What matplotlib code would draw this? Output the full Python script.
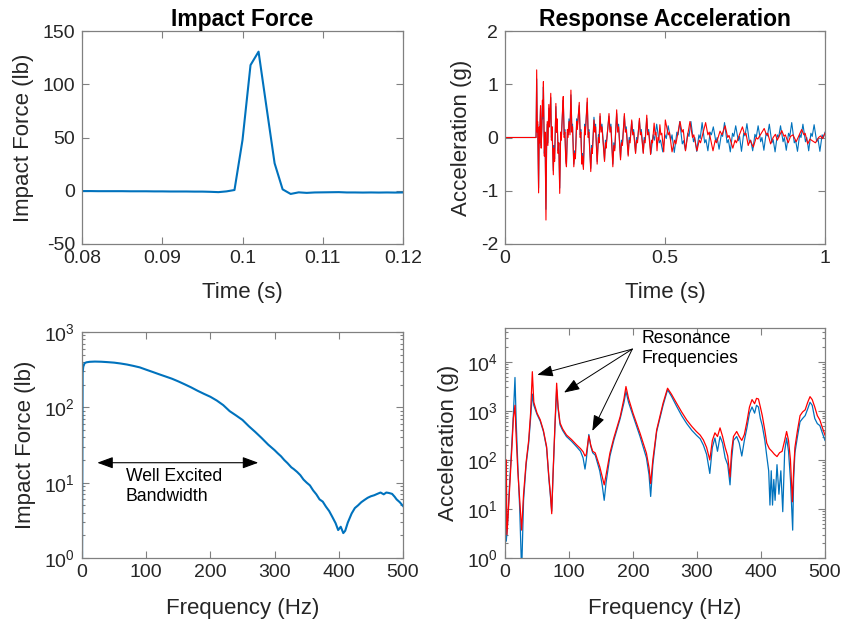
import matplotlib
matplotlib.use("Agg")
import matplotlib.pyplot as plt
from matplotlib.ticker import LogLocator, NullFormatter
import numpy as np

plt.rcParams['font.family'] = ['Liberation Sans', 'DejaVu Sans']
plt.rcParams['mathtext.fontset'] = 'custom'
plt.rcParams['mathtext.rm'] = 'Liberation Sans'
plt.rcParams['mathtext.it'] = 'Liberation Sans:italic'
plt.rcParams['mathtext.bf'] = 'Liberation Sans:bold'
plt.rcParams['axes.unicode_minus'] = False

BLUE = '#0072BD'
RED = '#FF0000'
AXC = '#808080'
TXC = '#262626'

# ---- Impact force, time domain (sampled every 1 ms) ----
force_time = [0.080, 0.081, 0.082, 0.083, 0.084, 0.085, 0.086, 0.087, 0.088, 0.089,
              0.090, 0.091, 0.092, 0.093, 0.094, 0.095, 0.096, 0.097, 0.098, 0.099,
              0.100, 0.101, 0.102, 0.103, 0.104, 0.105, 0.106, 0.107, 0.108, 0.109,
              0.110, 0.111, 0.112, 0.113, 0.114, 0.115, 0.116, 0.117, 0.118, 0.119, 0.120]
force_lb = [-0.3, -0.3, -0.4, -0.4, -0.4, -0.4, -0.5, -0.5, -0.5, -0.6,
            -0.6, -0.7, -0.7, -0.7, -0.8, -0.8, -1.0, -1.3, -0.6, 0.7,
            47.6, 118.0, 130.6, 78.0, 25.8, 1.3, -3.0, -1.5, -2.0, -1.6,
            -1.5, -1.4, -1.3, -1.6, -1.6, -1.7, -1.6, -1.7, -1.6, -1.7, -1.6]

# ---- Response acceleration, time domain (turning points of each trace) ----
acc_red_t = [0.000, 0.097, 0.099, 0.101, 0.102, 0.105, 0.107, 0.108, 0.111, 0.113,
             0.115, 0.117, 0.118, 0.120, 0.123, 0.125, 0.128, 0.130, 0.132, 0.134,
             0.137, 0.139, 0.143, 0.145, 0.147, 0.151, 0.153, 0.155, 0.159, 0.161,
             0.163, 0.166, 0.168, 0.171, 0.174, 0.176, 0.180, 0.182, 0.185, 0.187,
             0.190, 0.192, 0.195, 0.197, 0.200, 0.203, 0.206, 0.209, 0.211, 0.215,
             0.218, 0.220, 0.224, 0.226, 0.232, 0.235, 0.237, 0.240, 0.242, 0.245,
             0.249, 0.251, 0.257, 0.260, 0.262, 0.268, 0.271, 0.273, 0.278, 0.281,
             0.283, 0.288, 0.292, 0.294, 0.297, 0.300, 0.303, 0.311, 0.314, 0.316,
             0.325, 0.328, 0.331, 0.337, 0.340, 0.343, 0.349, 0.352, 0.355, 0.361,
             0.364, 0.367, 0.373, 0.376, 0.379, 0.385, 0.388, 0.391, 0.396, 0.399,
             0.402, 0.408, 0.411, 0.414, 0.420, 0.423, 0.426, 0.432, 0.435, 0.438,
             0.443, 0.446, 0.449, 0.455, 0.458, 0.461, 0.466, 0.469, 0.472, 0.475,
             0.478, 0.481, 0.484, 0.487, 0.490, 0.496, 0.501, 0.510, 0.514, 0.522,
             0.530, 0.534, 0.547, 0.553, 0.557, 0.564, 0.571, 0.578, 0.586, 0.590,
             0.600, 0.607, 0.611, 0.627, 0.634, 0.638, 0.650, 0.657, 0.661, 0.672,
             0.678, 0.688, 0.696, 0.700, 0.712, 0.719, 0.723, 0.742, 0.749, 0.753,
             0.760, 0.766, 0.776, 0.785, 0.790, 0.810, 0.817, 0.821, 0.830, 0.838,
             0.845, 0.851, 0.865, 0.872, 0.876, 0.885, 0.892, 0.900, 0.910, 0.927,
             0.934, 0.938, 0.946, 0.953, 0.960, 0.970, 0.980, 0.986, 0.992, 1.000]
acc_red_g = [0.00, 0.00, 1.27, 0.10, 0.30, -1.04, 0.20, -0.10, 0.60, -0.20,
             0.15, 0.70, 0.40, 1.05, -0.35, 0.10, -1.55, -0.20, 0.30, -0.15,
             0.62, 0.20, 0.83, -0.05, 0.20, -0.70, -0.20, -0.45, 0.64, 0.10,
             0.35, -0.30, -0.10, -1.05, 0.10, -0.05, 0.55, 0.77, 0.00, 0.10,
             -0.45, -0.55, 0.15, 0.00, 0.30, 0.05, 0.89, 0.10, 0.20, -0.55,
             -0.30, -0.40, 0.30, 0.15, 0.66, 0.00, 0.10, -0.50, -0.35, -0.60,
             0.20, 0.05, 0.74, 0.00, 0.10, -0.64, -0.20, -0.30, 0.33, 0.10,
             0.20, -0.50, 0.00, -0.10, 0.45, 0.10, 0.20, -0.45, -0.10, -0.20,
             0.45, 0.10, 0.20, -0.55, -0.15, -0.25, 0.52, 0.10, 0.20, -0.42,
             -0.10, -0.15, 0.45, 0.10, 0.15, -0.35, -0.05, -0.10, 0.33, 0.05,
             0.10, -0.30, -0.05, -0.10, 0.36, 0.05, 0.10, -0.30, -0.05, -0.10,
             0.42, 0.05, 0.10, -0.32, -0.05, -0.10, 0.27, 0.05, 0.10, -0.25,
             0.00, -0.05, 0.24, 0.05, 0.08, -0.27, 0.33, 0.05, 0.10, -0.27,
             -0.05, -0.12, 0.30, 0.10, 0.15, -0.25, 0.05, 0.30, 0.00, 0.05,
             -0.25, -0.05, -0.10, 0.28, 0.05, 0.10, -0.25, -0.05, -0.10, 0.12,
             0.05, 0.22, 0.00, 0.04, -0.20, -0.05, -0.10, 0.20, 0.05, 0.08,
             -0.15, -0.05, -0.18, 0.00, -0.03, 0.17, 0.05, 0.08, -0.12, 0.00,
             0.06, -0.05, 0.13, 0.02, 0.05, -0.10, 0.02, 0.05, -0.08, 0.15,
             0.05, 0.08, -0.12, -0.03, -0.06, -0.10, 0.00, 0.03, -0.02, 0.08]

acc_blue_t = [0.000, 0.097, 0.099, 0.101, 0.102, 0.105, 0.107, 0.108, 0.111, 0.113,
              0.115, 0.117, 0.118, 0.120, 0.123, 0.125, 0.128, 0.130, 0.132, 0.134,
              0.137, 0.139, 0.143, 0.145, 0.147, 0.151, 0.153, 0.155, 0.159, 0.161,
              0.163, 0.166, 0.168, 0.171, 0.174, 0.176, 0.180, 0.182, 0.185, 0.187,
              0.190, 0.192, 0.195, 0.197, 0.200, 0.203, 0.206, 0.209, 0.211, 0.215,
              0.218, 0.220, 0.224, 0.226, 0.232, 0.235, 0.237, 0.240, 0.242, 0.245,
              0.249, 0.251, 0.257, 0.260, 0.262, 0.268, 0.271, 0.273, 0.278, 0.281,
              0.283, 0.288, 0.292, 0.294, 0.297, 0.300, 0.303, 0.311, 0.314, 0.316,
              0.325, 0.328, 0.331, 0.337, 0.340, 0.343, 0.349, 0.352, 0.355, 0.361,
              0.364, 0.367, 0.373, 0.376, 0.379, 0.385, 0.388, 0.391, 0.396, 0.399,
              0.402, 0.408, 0.411, 0.414, 0.420, 0.423, 0.426, 0.432, 0.435, 0.438,
              0.443, 0.446, 0.449, 0.456, 0.463, 0.467, 0.474, 0.482, 0.486, 0.493,
              0.500, 0.504, 0.510, 0.518, 0.522, 0.529, 0.537, 0.541, 0.546, 0.554,
              0.558, 0.564, 0.571, 0.575, 0.581, 0.589, 0.593, 0.599, 0.606, 0.610,
              0.616, 0.624, 0.628, 0.634, 0.641, 0.645, 0.651, 0.659, 0.663, 0.669,
              0.676, 0.680, 0.686, 0.694, 0.698, 0.704, 0.711, 0.715, 0.721, 0.729,
              0.733, 0.739, 0.746, 0.750, 0.756, 0.764, 0.768, 0.774, 0.781, 0.785,
              0.791, 0.799, 0.803, 0.809, 0.816, 0.820, 0.826, 0.834, 0.838, 0.844,
              0.851, 0.855, 0.861, 0.869, 0.873, 0.879, 0.886, 0.890, 0.896, 0.904,
              0.908, 0.914, 0.921, 0.925, 0.931, 0.939, 0.943, 0.949, 0.956, 0.960,
              0.966, 0.974, 0.978, 0.984, 0.991, 0.995, 1.000]
acc_blue_g = [0.00, 0.00, 1.10, 0.10, 0.25, -0.95, 0.15, -0.05, 0.55, -0.15,
              0.15, 0.60, 0.35, 0.95, -0.30, 0.10, -1.35, -0.15, 0.25, -0.10,
              0.55, 0.20, 0.75, 0.00, 0.20, -0.62, -0.15, -0.40, 0.58, 0.10,
              0.30, -0.25, -0.10, -0.95, 0.10, 0.00, 0.50, 0.70, 0.05, 0.15,
              -0.40, -0.50, 0.10, 0.05, 0.35, 0.10, 0.80, 0.15, 0.25, -0.50,
              -0.25, -0.35, 0.35, 0.20, 0.60, 0.05, 0.15, -0.45, -0.30, -0.55,
              0.25, 0.10, 0.66, 0.05, 0.15, -0.58, -0.15, -0.25, 0.38, 0.15,
              0.25, -0.45, 0.05, -0.05, 0.40, 0.15, 0.25, -0.42, -0.05, -0.15,
              0.40, 0.15, 0.25, -0.50, -0.10, -0.20, 0.45, 0.15, 0.25, -0.38,
              -0.05, -0.10, 0.40, 0.15, 0.20, -0.32, 0.00, -0.05, 0.30, 0.10,
              0.15, -0.28, 0.00, -0.05, 0.32, 0.10, 0.15, -0.28, 0.00, -0.05,
              0.36, 0.10, 0.15, -0.30, 0.05, -0.05, 0.25, -0.10, -0.05, -0.27,
              0.05, -0.02, 0.22, -0.05, 0.05, -0.28, 0.10, 0.05, 0.30, -0.12,
              -0.06, -0.24, 0.08, 0.02, 0.30, -0.08, 0.00, -0.26, 0.05, -0.02,
              0.28, -0.10, -0.04, -0.25, 0.10, 0.05, 0.20, -0.08, 0.00, -0.22,
              0.06, 0.02, 0.28, -0.10, -0.04, -0.27, 0.08, 0.02, 0.22, -0.06,
              0.02, -0.26, 0.08, 0.03, 0.26, -0.10, -0.05, -0.25, 0.06, 0.00,
              0.22, -0.08, 0.00, -0.24, 0.08, 0.03, 0.25, -0.10, -0.04, -0.27,
              0.05, 0.00, 0.22, -0.08, 0.00, -0.24, 0.08, 0.02, 0.28, -0.10,
              -0.05, -0.26, 0.06, 0.00, 0.25, -0.08, 0.00, -0.25, 0.08, 0.02,
              0.24, -0.08, -0.02, -0.26, 0.05, 0.00, 0.10]

# ---- Impact force spectrum ----
force_freq = [0, 1, 2, 4, 7, 12, 20, 30, 40, 50, 60, 70, 80, 90, 100, 110, 120, 130,
              140, 150, 160, 170, 180, 190, 200, 210, 220, 230, 240, 250, 260, 270,
              280, 290, 300, 305, 310, 315, 320, 326, 330, 335, 340, 345, 350, 355,
              360, 365, 370, 375, 380, 385, 390, 395, 399, 403, 407, 410, 414, 420,
              425, 430, 435, 440, 445, 450, 455, 460, 465, 470, 474, 478, 483, 487,
              490, 495, 500]
force_mag = [0.5, 288, 347, 385, 396, 402, 405, 403, 398, 392, 382, 370, 355, 339,
             316, 295, 275, 257, 240, 221, 202, 184, 166, 151, 138, 123, 107, 89, 78,
             68, 56, 47, 39, 32, 27, 24.5, 22.4, 20.0, 18.2, 16.0, 15.1, 13.9, 12.6,
             11.0, 10.0, 9.2, 7.9, 7.0, 6.0, 5.6, 4.8, 4.2, 3.5, 2.9, 2.35, 2.6, 2.14,
             2.3, 2.95, 3.9, 4.6, 5.0, 5.5, 5.9, 6.3, 6.6, 6.8, 7.1, 7.4, 7.0, 7.4,
             7.3, 7.1, 6.5, 6.0, 5.5, 4.9]

# ---- Response acceleration spectra ----
acc_red_freq = [0, 1, 2, 3, 5, 8, 11, 13, 15.6, 17, 20, 23, 26, 29, 33, 37, 40, 42.7,
                45, 50, 55, 60, 65, 68.5, 71, 73, 75, 78, 80.7, 83, 86, 90, 96, 104,
                112, 118, 122, 125, 127, 131, 134, 137, 141, 148, 152, 155, 158, 164,
                170, 180, 186, 189, 193, 200, 211, 221, 225, 227.6, 231, 237, 247, 254,
                260, 268, 276, 284, 292, 299, 305, 310, 315, 320, 324, 328, 332, 336,
                340, 344, 348, 351.6, 354, 357, 362, 366, 370, 374, 378, 382, 386, 390,
                393, 396, 399, 402, 406, 409, 413, 417, 421, 425, 429, 433, 437, 440,
                443, 446, 449, 451, 453, 457, 461, 465, 469, 473, 476.6, 480, 484, 488,
                492, 496, 500]
acc_red_mag = [4.9e4, 4, 100, 3, 8, 40, 200, 700, 1300, 400, 60, 15, 3.7, 20, 90, 250,
               900, 6300, 1500, 900, 660, 400, 187, 46, 20, 8, 50, 500, 3670, 1200, 570,
               430, 323, 260, 202, 170, 147, 120, 130, 310, 200, 150, 139, 73, 45, 31,
               50, 139, 280, 765, 1800, 3140, 1800, 900, 350, 137, 70, 33, 100, 410,
               1440, 2900, 2200, 1440, 950, 650, 480, 380, 320, 255, 180, 100, 250, 357,
               300, 450, 300, 180, 120, 45, 150, 300, 380, 300, 250, 330, 600, 1200,
               1700, 1400, 1800, 1750, 1200, 800, 400, 220, 170, 150, 130, 117, 140,
               150, 250, 380, 250, 100, 14, 60, 180, 400, 800, 950, 1050, 1500, 1950,
               1700, 1200, 800, 650, 450, 320]

acc_blue_freq = [0, 1, 2, 4, 7, 10, 13, 15.6, 17.5, 20, 23, 26, 29, 33, 37, 40, 42.7,
                 45, 50, 55, 60, 65, 68.5, 71, 73, 75, 78, 80.7, 83, 86, 90, 96, 104,
                 112, 118, 122, 125, 127, 131, 134, 137, 141, 148, 152, 155, 158, 164,
                 170, 180, 186, 189, 193, 200, 211, 221, 225, 227.6, 231, 237, 247, 254,
                 260, 268, 276, 284, 292, 299, 305, 310, 315, 320, 324, 328, 332, 336,
                 340, 344, 348, 351.6, 354, 357, 362, 366, 370, 374, 378, 382, 386, 390,
                 393, 396, 399, 402, 406, 409, 412, 414, 416, 418, 420, 422, 425, 428,
                 431, 434, 437, 440, 443, 446, 449.5, 451, 453, 457, 461, 465, 469, 473,
                 476.6, 480, 484, 488, 492, 496, 500]
acc_blue_mag = [2.3, 13, 2.2, 5, 30, 150, 800, 4800, 600, 80, 10, 0.5, 15, 80, 220,
                700, 2200, 1300, 850, 620, 380, 175, 42, 18, 9, 45, 450, 2700, 1100,
                520, 400, 300, 240, 185, 150, 110, 65, 100, 330, 190, 140, 125, 60, 30,
                15, 35, 120, 250, 700, 1500, 2500, 1500, 800, 300, 110, 50, 18, 80, 380,
                1300, 2700, 2000, 1250, 800, 550, 400, 320, 270, 200, 130, 53, 180, 280,
                150, 300, 220, 110, 80, 31, 100, 250, 300, 220, 120, 250, 450, 900,
                1200, 900, 1300, 1200, 700, 500, 250, 120, 60, 12, 60, 12, 40, 15, 80,
                20, 60, 8.8, 150, 280, 150, 40, 3.7, 40, 140, 300, 600, 700, 800, 1100,
                1500, 1300, 700, 550, 500, 350, 250]

fig = plt.figure(figsize=(8.45, 6.23), dpi=100)

W, H = 845.0, 623.0
def box(l, t, r, b):
    return [l / W, 1 - b / H, (r - l) / W, (b - t) / H]

ax1 = fig.add_axes(box(82, 31, 403, 244))
ax2 = fig.add_axes(box(505, 31, 825, 244))
ax3 = fig.add_axes(box(82, 332, 403, 558))
ax4 = fig.add_axes(box(505, 328, 825, 558))

LABEL_FS = 16
TICK_FS = 14
TITLE_FS = 16.5
NOTE_FS = 12.7

def style(ax):
    for s in ax.spines.values():
        s.set_color(AXC)
        s.set_linewidth(0.9)
    ax.tick_params(which='both', direction='in', top=True, right=True,
                   color=AXC, labelcolor=TXC, labelsize=TICK_FS, width=0.8)
    ax.tick_params(which='major', length=5)
    ax.tick_params(axis='x', which='major', pad=4)
    ax.tick_params(axis='y', which='major', pad=5)
    ax.tick_params(which='minor', length=2.5)

# Impact force vs time
ax1.plot(force_time, force_lb, color=BLUE, lw=1.5)
ax1.set_xlim(0.08, 0.12)
ax1.set_ylim(-50, 150)
ax1.set_xticks([0.08, 0.09, 0.10, 0.11, 0.12])
ax1.set_xticklabels(['0.08', '0.09', '0.1', '0.11', '0.12'])
ax1.set_yticks([-50, 0, 50, 100, 150])
ax1.set_xlabel('Time (s)', fontsize=LABEL_FS, color=TXC, labelpad=11)
ax1.set_ylabel('Impact Force (lb)', fontsize=LABEL_FS, color=TXC, labelpad=6)
ax1.set_title('Impact Force', fontsize=TITLE_FS, fontweight='bold', color='black', pad=2)
style(ax1)

# Response acceleration vs time
ax2.plot(acc_blue_t, acc_blue_g, color=BLUE, lw=0.8)
ax2.plot(acc_red_t, acc_red_g, color=RED, lw=0.8)
ax2.set_xlim(0, 1)
ax2.set_ylim(-2, 2)
ax2.set_xticks([0, 0.5, 1])
ax2.set_xticklabels(['0', '0.5', '1'])
ax2.set_yticks([-2, -1, 0, 1, 2])
ax2.set_xlabel('Time (s)', fontsize=LABEL_FS, color=TXC, labelpad=11)
ax2.set_ylabel('Acceleration (g)', fontsize=LABEL_FS, color=TXC, labelpad=6)
ax2.set_title('Response Acceleration', fontsize=TITLE_FS, fontweight='bold', color='black', pad=2)
style(ax2)

# Impact force spectrum
ax3.plot(force_freq, force_mag, color=BLUE, lw=1.5)
ax3.set_yscale('log')
ax3.set_xlim(0, 500)
ax3.set_ylim(1, 1000)
ax3.set_xticks([0, 100, 200, 300, 400, 500])
ax3.yaxis.set_major_locator(LogLocator(base=10, numticks=10))
ax3.yaxis.set_minor_locator(LogLocator(base=10, subs=np.arange(2, 10), numticks=20))
ax3.yaxis.set_minor_formatter(NullFormatter())
ax3.set_xlabel('Frequency (Hz)', fontsize=LABEL_FS, color=TXC, labelpad=12.5)
ax3.set_ylabel('Impact Force (lb)', fontsize=LABEL_FS, color=TXC, labelpad=6)
style(ax3)
ax3.annotate('', xy=(274.6, 18.4), xytext=(23.8, 18.4),
             arrowprops=dict(arrowstyle='<|-|>,head_length=0.6,head_width=0.22',
                             color='black', lw=0.8, mutation_scale=16,
                             shrinkA=0, shrinkB=0))
ax3.text(68, 8.8, 'Well Excited\nBandwidth', fontsize=NOTE_FS, color='black',
         ha='left', va='center', linespacing=1.25)

# Response acceleration spectra
ax4.plot(acc_blue_freq, acc_blue_mag, color=BLUE, lw=0.9)
ax4.plot(acc_red_freq, acc_red_mag, color=RED, lw=0.9)
ax4.set_yscale('log')
ax4.set_xlim(0, 500)
ax4.set_ylim(1, 4.9e4)
ax4.set_xticks([0, 100, 200, 300, 400, 500])
ax4.yaxis.set_major_locator(LogLocator(base=10, numticks=10))
ax4.yaxis.set_minor_locator(LogLocator(base=10, subs=np.arange(2, 10), numticks=20))
ax4.yaxis.set_minor_formatter(NullFormatter())
ax4.set_xlabel('Frequency (Hz)', fontsize=LABEL_FS, color=TXC, labelpad=12.5)
ax4.set_ylabel('Acceleration (g)', fontsize=LABEL_FS, color=TXC, labelpad=6)
style(ax4)

src = (198.9, 18200)
for tgt in [(50.5, 5430), (92.2, 2360), (136.4, 390)]:
    ax4.annotate('', xy=tgt, xytext=src,
                 arrowprops=dict(arrowstyle='-|>,head_length=0.6,head_width=0.22',
                                 color='black', lw=0.7, mutation_scale=16,
                                 shrinkA=0, shrinkB=0))
ax4.text(213.5, 1.9e4, 'Resonance\nFrequencies', fontsize=NOTE_FS, color='black',
         ha='left', va='center', linespacing=1.25)

fig.savefig('out.png', dpi=100)
